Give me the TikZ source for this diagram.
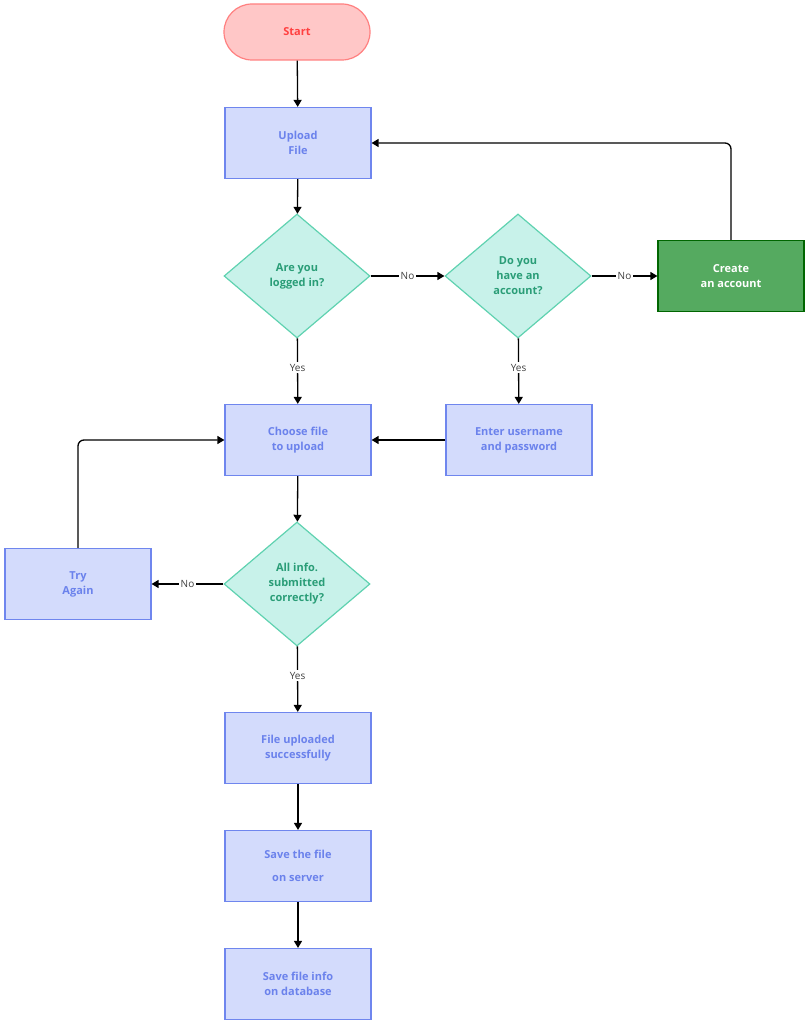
\documentclass[tikz,border=0pt]{standalone}
\usepackage{fontspec}
\setmainfont{Open Sans}
\usetikzlibrary{shapes.geometric,arrows.meta}
\definecolor{bfill}{HTML}{D3DBFC}
\definecolor{bline}{HTML}{6F86EE}
\definecolor{btext}{HTML}{6B82EC}
\definecolor{dfill}{HTML}{C8F2EA}
\definecolor{dline}{HTML}{5FD2B0}
\definecolor{dtext}{HTML}{2A9D77}
\begin{document}
\begin{tikzpicture}[x=1pt,y=-1pt,
 box/.style={draw=bline,fill=bfill,line width=1.2pt,minimum width=146pt,minimum height=71pt,align=center,font=\bfseries\fontsize{11}{15}\selectfont,text=btext},
 dia/.style={diamond,draw=dline,fill=dfill,line width=1.2pt,minimum width=146pt,minimum height=124pt,aspect=1.18,inner sep=0pt,align=center,font=\bfseries\fontsize{11}{15}\selectfont,text=dtext},
 arr/.style={-{Triangle[length=7pt,width=8pt]},line width=1.3pt},
 lab/.style={fill=white,font=\fontsize{10}{12}\selectfont,text=black!75,inner sep=2pt}]
\useasboundingbox (0,0) rectangle (807,1024);
\node[draw=red!50,fill=red!22,line width=1.2pt,rounded corners=28pt,minimum width=146pt,minimum height=56pt,font=\bfseries\fontsize{11}{14}\selectfont,text=red!75] (start) at (297,32) {Start};
\node[box] (upload) at (298,143) {Upload\\File};
\node[dia] (d1) at (297,276) {Are you\\logged in?};
\node[dia] (d2) at (518,276) {Do you\\have an\\account?};
\node[box,fill=green!55!black!70!white,draw=green!40!black,fill={rgb,255:red,85;green,170;blue,96},text=white] (create) at (731,276) {Create\\an account};
\node[box] (choose) at (298,440) {Choose file\\to upload};
\node[box] (enter) at (519,440) {Enter username\\and password};
\node[dia] (d3) at (297,584) {All info.\\submitted\\correctly?};
\node[box] (try) at (78,584) {Try\\Again};
\node[box] (ok) at (298,748) {File uploaded\\successfully};
\node[box] (save) at (298,866) {Save the file\\[8pt]on server};
\node[box] (info) at (298,984) {Save file info\\on database};
\draw[arr] (start) -- (upload);
\draw[arr] (upload) -- (d1);
\draw[arr] (d1) -- node[lab]{No} (d2);
\draw[arr] (d2) -- node[lab]{No} (create);
\draw[arr,rounded corners=6pt] (create.north) |- (upload.east);
\draw[arr] (d1) -- node[lab,pos=0.45]{Yes} (choose);
\draw[arr] (d2) -- node[lab,pos=0.45]{Yes} (enter);
\draw[arr] (enter) -- (choose);
\draw[arr] (choose) -- (d3);
\draw[arr] (d3) -- node[lab]{No} (try);
\draw[arr,rounded corners=6pt] (try.north) |- (choose.west);
\draw[arr] (d3) -- node[lab,pos=0.45]{Yes} (ok);
\draw[arr] (ok) -- (save);
\draw[arr] (save) -- (info);
\end{tikzpicture}
\end{document}
